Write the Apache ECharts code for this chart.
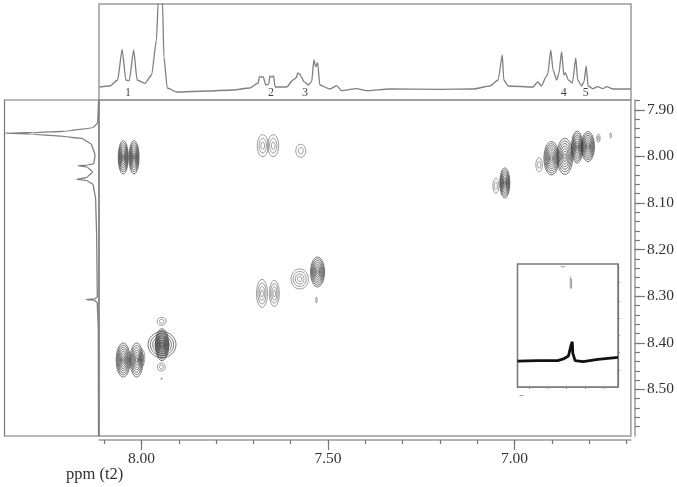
<!DOCTYPE html>
<html>
<head>
<meta charset="utf-8">
<title>2D NMR</title>
<script src="https://cdn.jsdelivr.net/npm/echarts@6/dist/echarts.min.js"></script>
<style>
  html, body { margin: 0; padding: 0; background: #fff; }
  #main { width: 677px; height: 487px; filter: blur(0.35px); }
</style>
</head>
<body>
<div id="main"></div>
<script>
// cross peaks: t2 ppm, t1 ppm, half width, half height (ppm), number of contour rings
var peakT2 = [8.049, 8.020, 7.675, 7.647, 7.573, 6.901, 6.865, 6.832, 6.803, 6.934, 6.775, 6.742, 7.026, 7.050, 8.049, 8.013, 7.998, 7.945, 7.945, 7.946, 7.947, 7.946, 7.677, 7.644, 7.576, 7.528, 7.531];
var peakT1 = [8.002, 8.002, 7.977, 7.977, 7.988, 8.004, 8.000, 7.980, 7.979, 8.018, 7.961, 7.955, 8.057, 8.063, 8.437, 8.437, 8.432, 8.404, 8.404, 8.354, 8.452, 8.477, 8.294, 8.294, 8.263, 8.248, 8.308];
var peakW = [0.0134, 0.0134, 0.0147, 0.0147, 0.0134, 0.0201, 0.0214, 0.0153, 0.0174, 0.0088, 0.0046, 0.0019, 0.0134, 0.0080, 0.0188, 0.0174, 0.0067, 0.0375, 0.0180, 0.0121, 0.0107, 0.0019, 0.0147, 0.0134, 0.0233, 0.0188, 0.0019];
var peakH = [0.0358, 0.0358, 0.0236, 0.0236, 0.0139, 0.0358, 0.0386, 0.0343, 0.0322, 0.0150, 0.0086, 0.0054, 0.0322, 0.0161, 0.0365, 0.0365, 0.0172, 0.0280, 0.0343, 0.0086, 0.0086, 0.0015, 0.0300, 0.0279, 0.0215, 0.0322, 0.0064];
var peakRings = [8, 8, 3, 3, 2, 8, 7, 8, 8, 2, 2, 1, 8, 2, 8, 7, 2, 6, 10, 2, 2, 1, 4, 4, 4, 8, 1];

// f2 projection on top
var topPpm = [8.112, 8.085, 8.064, 8.052, 8.042, 8.033, 8.021, 8.012, 7.991, 7.973, 7.960, 7.955, 7.944, 7.940, 7.931, 7.906, 7.826, 7.755, 7.710, 7.687, 7.684, 7.678, 7.674, 7.667, 7.659, 7.656, 7.651, 7.646, 7.642, 7.611, 7.594, 7.586, 7.581, 7.576, 7.570, 7.565, 7.553, 7.544, 7.538, 7.533, 7.528, 7.522, 7.495, 7.477, 7.464, 7.424, 7.397, 7.334, 7.200, 7.112, 7.066, 7.044, 7.033, 7.029, 7.017, 6.951, 6.938, 6.928, 6.916, 6.911, 6.903, 6.897, 6.887, 6.881, 6.874, 6.868, 6.864, 6.856, 6.845, 6.836, 6.831, 6.820, 6.814, 6.808, 6.803, 6.790, 6.777, 6.764, 6.753, 6.736, 6.688];
var topInt = [13, 14, 20, 50.7, 20, 19.4, 50, 20, 16.7, 25, 60, 100, 100, 43, 12, 8, 9, 10, 12, 17, 23.3, 23, 23.3, 15, 16, 24, 23, 24, 13, 13, 20, 22, 27, 26, 22, 18.3, 15, 18.3, 40, 33.3, 37.3, 15, 11, 14.3, 9.3, 11.3, 9.3, 11, 10.7, 11, 14, 20, 45, 20, 14, 13, 18, 14, 23, 26, 50, 30, 20, 27, 48.3, 25, 27.3, 20, 17, 42, 20, 14, 18.3, 34, 14, 11.3, 13.3, 11.3, 13.3, 11, 11];

// f1 projection on the left
var leftPpm = [7.879, 7.928, 7.938, 7.946, 7.949, 7.950, 7.952, 7.958, 7.962, 7.975, 7.997, 8.015, 8.019, 8.020, 8.023, 8.033, 8.045, 8.049, 8.052, 8.061, 8.093, 8.179, 8.301, 8.306, 8.307, 8.309, 8.315, 8.372, 8.600];
var leftInt = [0.3, 1.3, 5.7, 32.3, 66, 94, 66, 32.3, 15.7, 7.3, 4, 5, 12.3, 20.7, 11.7, 6.3, 11.7, 22.3, 11.7, 5.7, 3.3, 2.3, 1.7, 4, 13, 4, 1.7, 0.7, 0.5];

// little trace in the inset box
var insetX = [0, 20, 40, 45.7, 50.7, 53.3, 54.5, 55, 57.3, 65.3, 80, 100];
var insetY = [21.1, 21.4, 21.5, 22.8, 25.2, 34, 36.8, 27.6, 21.4, 20.6, 22.5, 24.1];
// unreadable specks inside the inset
var insetSpeckX = [43, 47.5, null, 52.5, 52.5, null, 53.8, 53.8, null, 2, 6];
var insetSpeckY = [97.8, 97.8, null, 90, 80, null, 88, 80, null, -7, -7];

var peakNames = ['1', '2', '3', '4', '5'];
var peakNamePpm = [8.036, 7.653, 7.562, 6.868, 6.809];

var xMajorTicks = [8.0, 7.5, 7.0];
var xMinorTicks = [8.1, 8.0, 7.9, 7.8, 7.7, 7.6, 7.5, 7.4, 7.3, 7.2, 7.1, 7.0, 6.9, 6.8, 6.7];
var yMajorTicks = [7.9, 8.0, 8.1, 8.2, 8.3, 8.4, 8.5];
var yMinorTicks = [7.88, 7.9, 7.92, 7.94, 7.96, 7.98, 8.0, 8.02, 8.04, 8.06, 8.08, 8.1, 8.12, 8.14, 8.16, 8.18, 8.2, 8.22, 8.24, 8.26, 8.28, 8.3, 8.32, 8.34, 8.36, 8.38, 8.4, 8.42, 8.44, 8.46, 8.48, 8.5, 8.52, 8.54, 8.56, 8.58];
var insetXTicks = [12, 30.5, 49, 67.5, 86];
var insetYTicks = [14, 28, 42, 56, 70, 85];

var t2Min = 6.688, t2Max = 8.114;
var t1Min = 7.879, t1Max = 8.600;

var serif = '"Liberation Serif", serif';
var axisGray = '#9a9a9a';

function zip(a, b) {
  return a.map(function (v, i) { return [v, b[i]]; });
}

function contourItem(params, api) {
  var c = api.coord([api.value(0), api.value(1)]);
  var s = api.size([api.value(2), api.value(3)]);
  var rings = api.value(4);
  var kids = [];
  for (var i = 1; i <= rings; i++) {
    kids.push({
      type: 'ellipse',
      shape: { cx: c[0], cy: c[1], rx: s[0] * i / rings, ry: s[1] * i / rings },
      style: { fill: 'none', stroke: '#333', lineWidth: rings > 5 ? 0.9 : 0.8, opacity: rings > 5 ? 0.75 : 0.6 }
    });
  }
  return { type: 'group', children: kids };
}

var chart = echarts.init(document.getElementById('main'), null, { renderer: 'canvas' });

var option = {
  animation: false,
  backgroundColor: '#fff',
  title: {
    text: 'ppm (t2)', left: 61, top: 461,
    textStyle: { fontFamily: serif, fontSize: 16.5, fontWeight: 'normal', color: '#333' }
  },
  grid: [
    { left: 99, top: 100, width: 532, height: 336, show: true, borderColor: axisGray, borderWidth: 1.5, backgroundColor: '#fff' },
    { left: 99, top: 4, width: 532, height: 96, show: true, borderColor: axisGray, borderWidth: 1.5 },
    { left: 4.5, top: 100, width: 94.5, height: 336, show: true, borderColor: '#777', borderWidth: 1.2 },
    { left: 517.5, top: 264, width: 100.5, height: 123, show: true, borderColor: '#777', borderWidth: 1.5, backgroundColor: '#fff', z: 5 }
  ],
  xAxis: [
    {
      gridIndex: 0, type: 'value', inverse: true, min: t2Min, max: t2Max, position: 'bottom', offset: 4,
      splitLine: { show: false },
      axisLine: { onZero: false, lineStyle: { color: axisGray, width: 1.5 } },
      axisTick: { length: 4, customValues: xMinorTicks, lineStyle: { color: '#777', width: 1.2 } },
      axisLabel: { show: false }
    },
    {
      gridIndex: 0, type: 'value', inverse: true, min: t2Min, max: t2Max, position: 'bottom', offset: 4,
      splitLine: { show: false },
      axisLine: { show: false, onZero: false },
      axisTick: { length: 10, customValues: xMajorTicks, lineStyle: { color: '#777', width: 1.2 } },
      axisLabel: {
        customValues: xMajorTicks, margin: 11, color: '#333', fontFamily: serif, fontSize: 15.5,
        formatter: function (v) { return v.toFixed(2); }
      }
    },
    { gridIndex: 1, type: 'value', inverse: true, min: t2Min, max: t2Max, show: false },
    { gridIndex: 2, type: 'value', inverse: true, min: 0, max: 94.5, show: false },
    {
      gridIndex: 3, type: 'value', min: 0, max: 100, position: 'bottom',
      splitLine: { show: false },
      axisLine: { onZero: false, lineStyle: { color: '#777', width: 1.5 } },
      axisTick: { length: 2, inside: false, customValues: insetXTicks, lineStyle: { color: '#999', width: 1 } },
      axisLabel: { show: false }
    }
  ],
  yAxis: [
    {
      gridIndex: 0, type: 'value', inverse: true, min: t1Min, max: t1Max, position: 'right', offset: 4,
      splitLine: { show: false },
      axisLine: { onZero: false, lineStyle: { color: axisGray, width: 1.5 } },
      axisTick: { length: 5, customValues: yMinorTicks, lineStyle: { color: '#777', width: 1.2 } },
      axisLabel: { show: false }
    },
    {
      gridIndex: 0, type: 'value', inverse: true, min: t1Min, max: t1Max, position: 'right', offset: 4,
      splitLine: { show: false },
      axisLine: { show: false, onZero: false },
      axisTick: { length: 10, customValues: yMajorTicks, lineStyle: { color: '#777', width: 1.2 } },
      axisLabel: {
        customValues: yMajorTicks, margin: 12, color: '#333', fontFamily: serif, fontSize: 15.5,
        formatter: function (v) { return v.toFixed(2); }
      }
    },
    { gridIndex: 1, type: 'value', min: 0, max: 96, show: false },
    { gridIndex: 2, type: 'value', inverse: true, min: t1Min, max: t1Max, show: false },
    {
      gridIndex: 3, type: 'value', min: 0, max: 100, position: 'right',
      splitLine: { show: false },
      axisLine: { onZero: false, lineStyle: { color: '#777', width: 1.2 } },
      axisTick: { length: 2, customValues: insetYTicks, lineStyle: { color: '#999', width: 1 } },
      axisLabel: { show: false }
    }
  ],
  series: [
    {
      name: 'contours', type: 'custom', xAxisIndex: 0, yAxisIndex: 0, coordinateSystem: 'cartesian2d',
      renderItem: contourItem, encode: { x: 0, y: 1 }, clip: true, silent: true,
      data: peakT2.map(function (v, i) { return [v, peakT1[i], peakW[i], peakH[i], peakRings[i]]; })
    },
    {
      name: 'f2', type: 'line', xAxisIndex: 2, yAxisIndex: 2, symbol: 'none', clip: true, silent: true,
      smooth: 0.2, smoothMonotone: 'x',
      lineStyle: { color: '#808080', width: 1.3 }, data: zip(topPpm, topInt)
    },
    {
      name: 'numbers', type: 'scatter', xAxisIndex: 2, yAxisIndex: 2, symbolSize: 0, silent: true,
      label: {
        show: true, position: 'inside', color: '#111', fontFamily: serif, fontSize: 12,
        formatter: function (p) { return peakNames[p.dataIndex]; }
      },
      data: peakNamePpm.map(function (v) { return [v, 7]; })
    },
    {
      name: 'f1', type: 'line', xAxisIndex: 3, yAxisIndex: 3, symbol: 'none', clip: true, silent: true,
      smooth: 0.2, smoothMonotone: 'y',
      lineStyle: { color: '#808080', width: 1.3 }, data: zip(leftInt, leftPpm)
    },
    {
      name: 'inset', type: 'line', xAxisIndex: 4, yAxisIndex: 4, symbol: 'none', silent: true, z: 6,
      lineStyle: { color: '#111', width: 2.8 }, data: zip(insetX, insetY)
    },
    {
      name: 'specks', type: 'line', xAxisIndex: 4, yAxisIndex: 4, symbol: 'none', silent: true, z: 6, clip: false,
      lineStyle: { color: '#999', width: 1 },
      data: insetSpeckX.map(function (v, i) { return v === null ? [null, null] : [v, insetSpeckY[i]]; })
    }
  ]
};

chart.setOption(option);
</script>
</body>
</html>
